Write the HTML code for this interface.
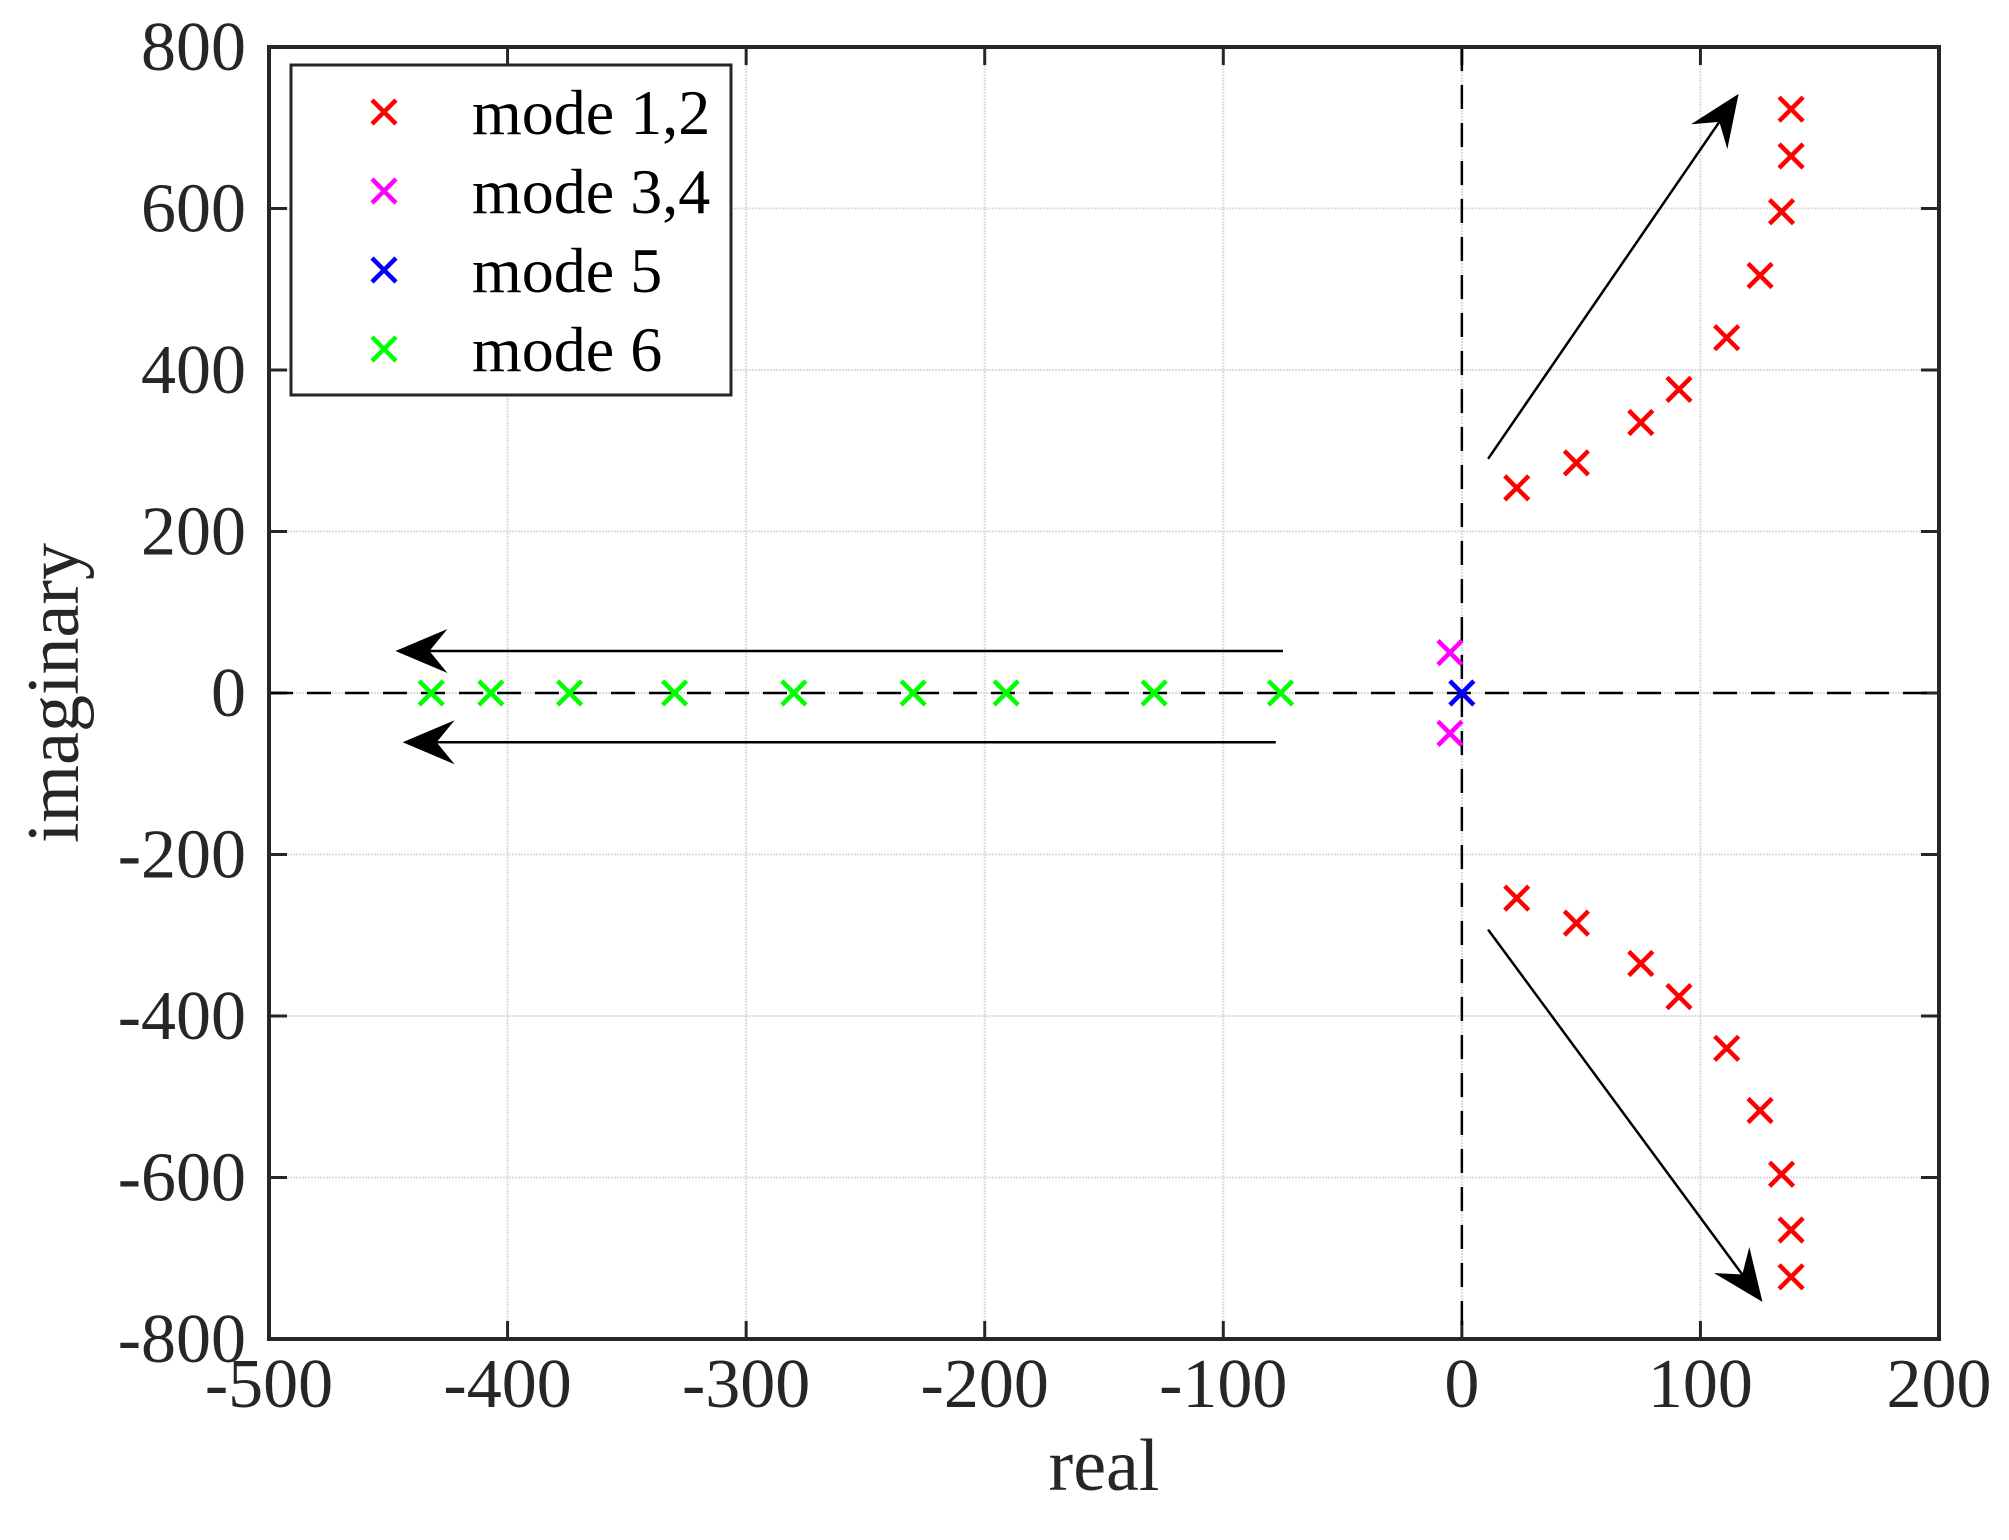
<!DOCTYPE html>
<html><head><meta charset="utf-8"><style>
html,body{margin:0;padding:0;background:#fff;}
svg{display:block;font-family:"Liberation Serif",serif;}
</style></head><body>
<svg id="chart" width="2009" height="1540" viewBox="0 0 2009 1540" xmlns="http://www.w3.org/2000/svg">
<g id="grid"></g>
<g id="axes"></g>
<g id="marks"></g>
<g id="arrows"></g>
<g id="legend"></g>
</svg>
<script>
const xTicks = [-500,-400,-300,-200,-100,0,100,200];
const yTicks = [-800,-600,-400,-200,0,200,400,600,800];
const mode12Real = [23,48,75,91,111,125,134,138,138];
const mode12Imag = [254,285,335,376,440,517,596,665,723];
const mode34Real = [-5,-5];
const mode34Imag = [50,-50];
const mode5Real = [0];
const mode5Imag = [0];
const mode6Real = [-432,-407,-374,-330,-280,-230,-191,-129,-76];
const mode6Imag = [0,0,0,0,0,0,0,0,0];
const arrowFrom = [[11,290],[11,-293],[-75,52],[-78,-61]];
const arrowTo = [[116,742],[126,-754],[-447,52],[-444,-61]];
const legendLabels = ["mode 1,2","mode 3,4","mode 5","mode 6"];
const legendColors = ["#ff0000","#ff00ff","#0000ff","#00ff00"];

const L=269,R=1939,T=47,B=1339;
const xs=v=>L+(v+500)/700*(R-L);
const ys=v=>B-(v+800)/1600*(B-T);
const NS="http://www.w3.org/2000/svg";
function mk(parent,tag,attrs){const e=document.createElementNS(NS,tag);for(const k in attrs)e.setAttribute(k,attrs[k]);parent.appendChild(e);return e;}
const grid=document.getElementById('grid'),axes=document.getElementById('axes'),marks=document.getElementById('marks'),arrows=document.getElementById('arrows'),legend=document.getElementById('legend');

xTicks.forEach(v=>{
  const x=xs(v);
  const g=mk(grid,'line',{x1:x,x2:x,y1:T,y2:B,stroke:'#dcdcdc','stroke-width':2,'stroke-dasharray':'2,1'});
  
  
  mk(axes,'line',{x1:x,x2:x,y1:B,y2:B-18,stroke:'#262626','stroke-width':3});
  mk(axes,'line',{x1:x,x2:x,y1:T,y2:T+18,stroke:'#262626','stroke-width':3});
  const t=mk(axes,'text',{x:x,y:1407,'text-anchor':'middle','font-size':70,fill:'#262626'});
  t.textContent=v;
  
  
});
yTicks.forEach(v=>{
  const y=ys(v);
  const g=mk(grid,'line',{x1:L,x2:R,y1:y,y2:y,stroke:'#dcdcdc','stroke-width':2,'stroke-dasharray':'2,1'});
  
  
  mk(axes,'line',{x1:L,x2:L+18,y1:y,y2:y,stroke:'#262626','stroke-width':3});
  mk(axes,'line',{x1:R,x2:R-18,y1:y,y2:y,stroke:'#262626','stroke-width':3});
  const t=mk(axes,'text',{x:246,y:y+23,'text-anchor':'end','font-size':70,fill:'#262626'});
  t.textContent=v;
  
  
});
const zh=mk(axes,'line',{x1:L,x2:R,y1:ys(0),y2:ys(0),stroke:'#000','stroke-width':2.5,'stroke-dasharray':'24,14'});


const zv=mk(axes,'line',{x1:xs(0),x2:xs(0),y1:T,y2:B,stroke:'#000','stroke-width':2.5,'stroke-dasharray':'24,14'});


const frame=mk(axes,'rect',{x:L,y:T,width:R-L,height:B-T,fill:'none',stroke:'#262626','stroke-width':4});


const xl=mk(axes,'text',{x:1104,y:1490,'text-anchor':'middle','font-size':74,fill:'#262626'});
xl.textContent='real';


const yl=mk(axes,'text',{x:0,y:0,'text-anchor':'middle','font-size':74,fill:'#262626',transform:'translate(78,693) rotate(-90)'});
yl.textContent='imaginary';



function cross(parent,x,y,c,name){
  const s=12;
  const p=mk(parent,'path',{d:`M${x-s},${y-s}L${x+s},${y+s}M${x-s},${y+s}L${x+s},${y-s}`,stroke:c,'stroke-width':4.5,fill:'none'});
  
  
}
mode12Real.forEach((r,i)=>{cross(marks,xs(r),ys(mode12Imag[i]),'#ff0000','pole-mode-1');cross(marks,xs(r),ys(-mode12Imag[i]),'#ff0000','pole-mode-2');});
mode34Real.forEach((r,i)=>cross(marks,xs(r),ys(mode34Imag[i]),'#ff00ff','pole-mode-3-4'));
mode6Real.forEach((r,i)=>cross(marks,xs(r),ys(mode6Imag[i]),'#00ff00','pole-mode-6'));
mode5Real.forEach((r,i)=>cross(marks,xs(r),ys(mode5Imag[i]),'#0000ff','pole-mode-5'));

arrowFrom.forEach((f,i)=>{
  const x1=xs(f[0]),y1=ys(f[1]),x2=xs(arrowTo[i][0]),y2=ys(arrowTo[i][1]);
  const dx=x2-x1,dy=y2-y1,len=Math.hypot(dx,dy),ux=dx/len,uy=dy/len;
  const hl=52,hw=22,back=34;
  const bx=x2-ux*hl,by=y2-uy*hl,nx=-uy,ny=ux,ix=x2-ux*back,iy=y2-uy*back;
  const g=mk(arrows,'g',{});
  
  
  mk(g,'line',{x1:x1,y1:y1,x2:ix,y2:iy,stroke:'#000','stroke-width':2.5});
  mk(g,'path',{d:`M${x2},${y2}L${bx+nx*hw},${by+ny*hw}L${ix},${iy}L${bx-nx*hw},${by-ny*hw}Z`,fill:'#000'});
});

const lb=mk(legend,'rect',{x:291,y:65,width:440,height:330,fill:'#fff',stroke:'#262626','stroke-width':3});


legendLabels.forEach((lab,i)=>{
  const y=112+i*79;
  cross(legend,384,y,legendColors[i],'legend-marker');
  const t=mk(legend,'text',{x:472,y:y+22,'font-size':64,fill:'#000'});
  t.textContent=lab;
  
  
});
</script>
</body></html>
